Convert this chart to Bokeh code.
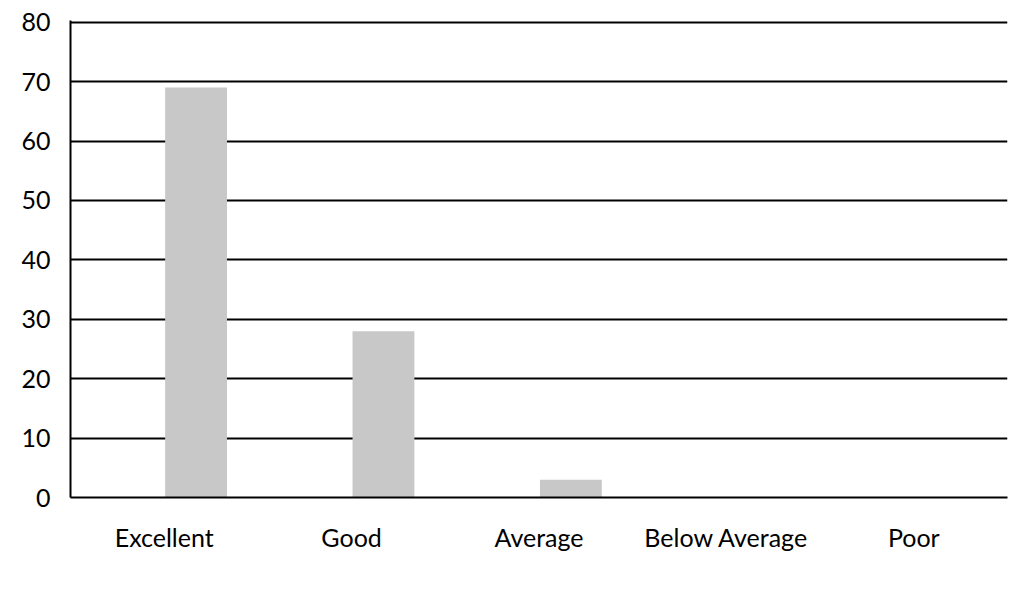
from bokeh.plotting import figure
from bokeh.models import ColumnDataSource, FactorRange, FixedTicker
from bokeh.transform import dodge
from bokeh.embed import file_html
from bokeh.resources import INLINE

categories = ["Excellent", "Good", "Average", "Below Average", "Poor"]
values = [69, 28, 3, 0, 0]
y_ticks = [0, 10, 20, 30, 40, 50, 60, 70, 80]

source = ColumnDataSource(data=dict(cats=categories, vals=values))

p = figure(x_range=FactorRange(*categories, range_padding=0), y_range=(0, 80.3),
           width=1012, height=567, output_backend="svg", toolbar_location=None,
           min_border_left=70, min_border_right=5, min_border_top=20, min_border_bottom=70)

p.vbar(x=dodge("cats", 0.17, range=p.x_range), top="vals", width=0.33, source=source,
       fill_color="#c8c8c8", line_color=None)

p.outline_line_color = None
p.background_fill_color = "white"
p.border_fill_color = "white"

p.yaxis.ticker = FixedTicker(ticks=y_ticks)
p.yaxis.major_tick_line_color = None
p.yaxis.minor_tick_line_color = None
p.yaxis.axis_line_color = "black"
p.yaxis.axis_line_width = 2
p.yaxis.major_label_text_font = "Lato"
p.yaxis.major_label_text_font_size = "25px"
p.yaxis.major_label_text_color = "black"
p.yaxis.major_label_standoff = 14

p.xaxis.major_tick_line_color = None
p.xaxis.minor_tick_line_color = None
p.xaxis.axis_line_color = "black"
p.xaxis.axis_line_width = 2
p.xaxis.major_label_text_font = "Lato"
p.xaxis.major_label_text_font_size = "25px"
p.xaxis.major_label_text_color = "black"
p.xaxis.major_label_standoff = 18

p.xgrid.grid_line_color = None
p.ygrid.ticker = FixedTicker(ticks=y_ticks)
p.ygrid.grid_line_color = "black"
p.ygrid.grid_line_width = 2

open("out.html", "w").write(file_html(p, INLINE))
